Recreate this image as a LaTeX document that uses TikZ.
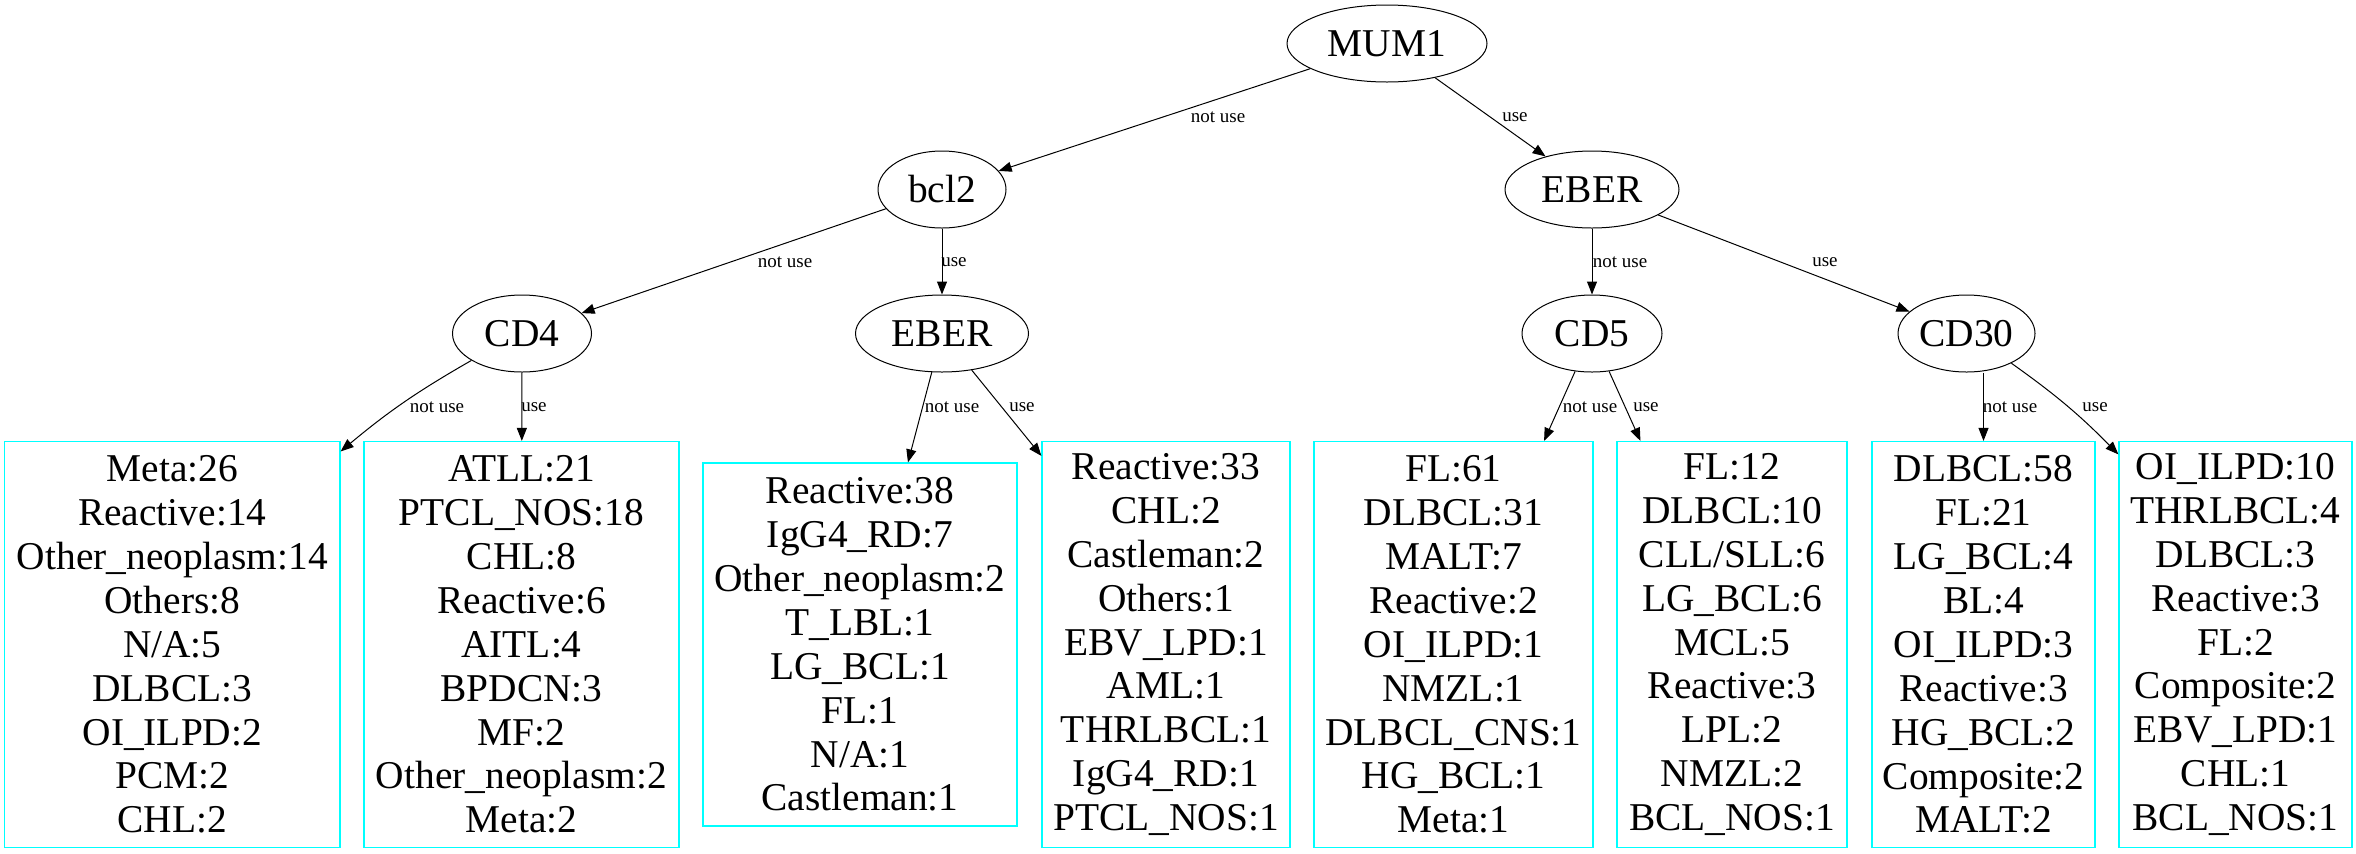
\documentclass[tikz,border=0pt]{standalone}
\usepackage{fontspec}
\setmainfont{Liberation Serif}
\usetikzlibrary{shapes.geometric, arrows.meta, positioning}
\definecolor{leafcyan}{RGB}{0,255,255}

\begin{document}
\begin{tikzpicture}[x=0.5pt, y=-0.5pt, >={Triangle[length=6.5pt,width=5pt]},
                    cond/.style={ellipse, draw, line width=0.5pt, inner sep=0pt,
                                 minimum height=38.5pt, font=\fontsize{19.7}{22}\selectfont},
                    leaf/.style={rectangle, draw=leafcyan, line width=0.6pt, align=center,
                                 inner sep=0pt, font=\fontsize{19.7}{21.95}\selectfont},
                    elabel/.style={inner sep=0pt, font=\fontsize{9.5}{11}\selectfont}]

  \useasboundingbox (0,0) rectangle (2356,853);

  % split nodes
  \node[cond, minimum width=100pt]  at (1387,43.5)   (MUM)  {MUM1};
  \node[cond, minimum width=64pt]   at (942,189.5)   (BCL)  {bcl2};
  \node[cond, minimum width=87pt]   at (1592,189.5)  (EBR)  {EBER};
  \node[cond, minimum width=69.5pt] at (522,333.5)   (CDf)  {CD4};
  \node[cond, minimum width=86.5pt] at (942,333.5)   (EBL)  {EBER};
  \node[cond, minimum width=70pt]   at (1592,333.5)  (CDv)  {CD5};
  \node[cond, minimum width=68.5pt] at (1966.5,333.5) (CDt) {CD30};

  % leaves
  \node[leaf, minimum width=167.7pt, minimum height=203pt] at (172.3,644.5) (LA)
    {Meta:26\\Reactive:14\\Other\_neoplasm:14\\Others:8\\N/A:5\\DLBCL:3\\OI\_ILPD:2\\PCM:2\\CHL:2};
  \node[leaf, minimum width=157.5pt, minimum height=203pt] at (521.5,644.5) (LB)
    {ATLL:21\\PTCL\_NOS:18\\CHL:8\\Reactive:6\\AITL:4\\BPDCN:3\\MF:2\\Other\_neoplasm:2\\Meta:2};
  \node[leaf, minimum width=157pt, minimum height=181.5pt] at (860,644.5) (LC)
    {Reactive:38\\IgG4\_RD:7\\Other\_neoplasm:2\\T\_LBL:1\\LG\_BCL:1\\FL:1\\N/A:1\\Castleman:1};
  \node[leaf, minimum width=124pt, minimum height=203pt] at (1166,644.5) (LD)
    {Reactive:33\\CHL:2\\Castleman:2\\Others:1\\EBV\_LPD:1\\AML:1\\THRLBCL:1\\IgG4\_RD:1\\PTCL\_NOS:1};
  \node[leaf, minimum width=139.5pt, minimum height=203pt] at (1453.5,644.5) (LE)
    {FL:61\\DLBCL:31\\MALT:7\\Reactive:2\\OI\_ILPD:1\\NMZL:1\\DLBCL\_CNS:1\\HG\_BCL:1\\Meta:1};
  \node[leaf, minimum width=115pt, minimum height=203pt] at (1732,644.5) (LF)
    {FL:12\\DLBCL:10\\CLL/SLL:6\\LG\_BCL:6\\MCL:5\\Reactive:3\\LPL:2\\NMZL:2\\BCL\_NOS:1};
  \node[leaf, minimum width=111.5pt, minimum height=203pt] at (1983.5,644.5) (LG)
    {DLBCL:58\\FL:21\\LG\_BCL:4\\BL:4\\OI\_ILPD:3\\Reactive:3\\HG\_BCL:2\\Composite:2\\MALT:2};
  \node[leaf, minimum width=116.5pt, minimum height=203pt] at (2235.5,644.5) (LH)
    {OI\_ILPD:10\\THRLBCL:4\\DLBCL:3\\Reactive:3\\FL:2\\Composite:2\\EBV\_LPD:1\\CHL:1\\BCL\_NOS:1};

  % branch labels
  \node[elabel] at (1218,117)  (nuA) {not use};
  \node[elabel] at (1515,117)  (uA)  {use};
  \node[elabel] at (785,262)   (nuB) {not use};
  \node[elabel] at (954,262)   (uB)  {use};
  \node[elabel] at (1620,262)  (nuC) {not use};
  \node[elabel] at (1825,262)  (uC)  {use};
  \node[elabel] at (437,407)   (nuD) {not use};
  \node[elabel] at (534,407)   (uD)  {use};
  \node[elabel] at (952,407)   (nuE) {not use};
  \node[elabel] at (1022,407)  (uE)  {use};
  \node[elabel] at (1590,407)  (nuF) {not use};
  \node[elabel] at (1646,407)  (uF)  {use};
  \node[elabel] at (2010,407)  (nuG) {not use};
  \node[elabel] at (2095,407)  (uG)  {use};

  \path[->, line width=0.5pt]
        (MUM) edge (BCL)
              edge (EBR)
        (BCL) edge (CDf)
              edge (EBL)
        (EBR) edge (CDv)
              edge (CDt)
        (CDf) edge[bend right=5] ([yshift=-5.25pt]LA.north east)
              edge (LB)
        (EBL) edge (LC)
              edge ([yshift=-7.5pt]LD.north west)
        (CDv) edge (LE)
              edge (LF)
        (CDt.south -| LG.north) edge (LG)
        (CDt) edge[bend left=5] ([yshift=-6.75pt]LH.north west);

\end{tikzpicture}
\end{document}
